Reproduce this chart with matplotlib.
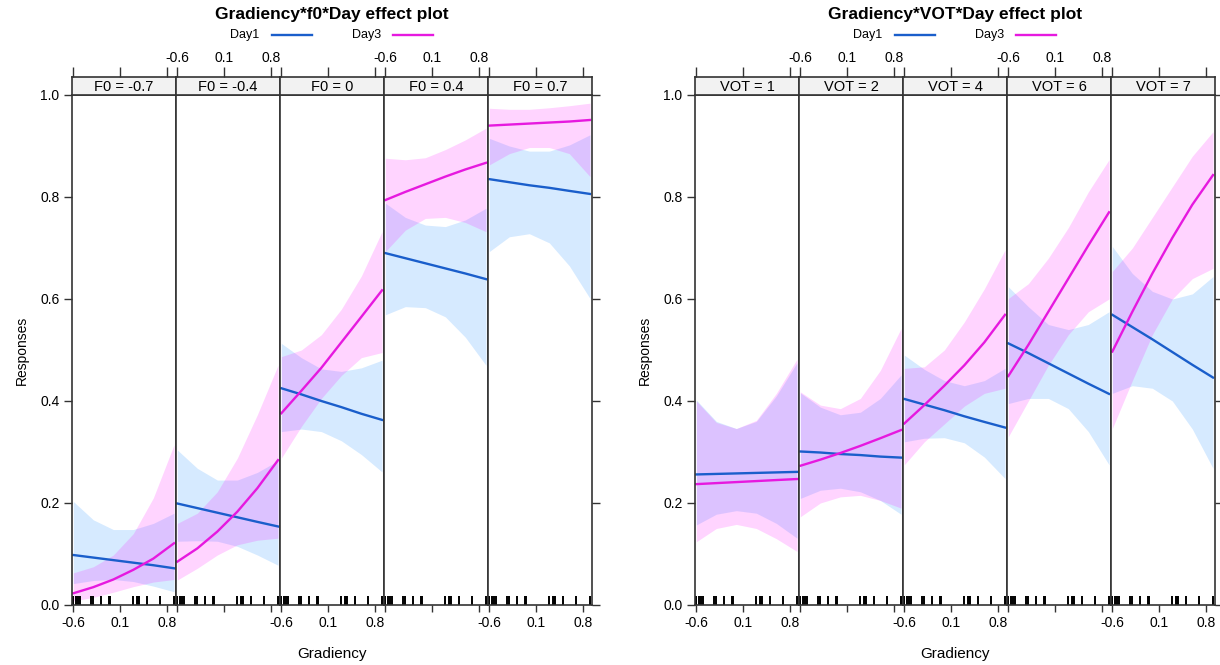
import matplotlib.pyplot as plt
from matplotlib.lines import Line2D

plt.rcParams['font.family'] = ['Liberation Sans', 'DejaVu Sans']

# x positions (Gradiency) at which the fitted curves were read
gx = [-0.6, -0.3, 0.0, 0.3, 0.6, 0.91]

# observed Gradiency values (rug)
rug = [-0.60, -0.56, -0.53, -0.50, -0.33, -0.31, -0.18, -0.07, -0.05,
       0.30, 0.35, 0.37, 0.39, 0.51, 0.70, 0.91]

f0_levels = ['F0 = -0.7', 'F0 = -0.4', 'F0 = 0', 'F0 = 0.4', 'F0 = 0.7']
vot_levels = ['VOT = 1', 'VOT = 2', 'VOT = 4', 'VOT = 6', 'VOT = 7']

# ---- Gradiency*f0*Day ----
f0_d1_fit = [[0.098, 0.093, 0.088, 0.083, 0.078, 0.072],
             [0.199, 0.190, 0.181, 0.172, 0.163, 0.154],
             [0.425, 0.413, 0.400, 0.388, 0.375, 0.363],
             [0.690, 0.680, 0.670, 0.660, 0.650, 0.639],
             [0.835, 0.829, 0.823, 0.818, 0.812, 0.806]]
f0_d1_lo = [[0.042, 0.048, 0.050, 0.046, 0.037, 0.026],
            [0.125, 0.126, 0.125, 0.115, 0.098, 0.078],
            [0.340, 0.345, 0.340, 0.322, 0.295, 0.261],
            [0.569, 0.585, 0.583, 0.565, 0.525, 0.470],
            [0.693, 0.722, 0.728, 0.710, 0.665, 0.601]]
f0_d1_hi = [[0.203, 0.167, 0.148, 0.148, 0.160, 0.180],
            [0.304, 0.268, 0.245, 0.245, 0.260, 0.283],
            [0.513, 0.485, 0.463, 0.458, 0.465, 0.480],
            [0.788, 0.760, 0.745, 0.742, 0.755, 0.778],
            [0.915, 0.900, 0.890, 0.890, 0.902, 0.922]]
f0_d3_fit = [[0.023, 0.035, 0.050, 0.069, 0.091, 0.121],
             [0.085, 0.111, 0.144, 0.183, 0.229, 0.284],
             [0.376, 0.420, 0.465, 0.515, 0.565, 0.617],
             [0.794, 0.810, 0.825, 0.840, 0.854, 0.867],
             [0.940, 0.942, 0.944, 0.946, 0.948, 0.951]]
f0_d3_lo = [[0.008, 0.015, 0.025, 0.036, 0.045, 0.050],
            [0.049, 0.072, 0.098, 0.118, 0.127, 0.131],
            [0.288, 0.350, 0.405, 0.450, 0.485, 0.495],
            [0.693, 0.735, 0.758, 0.760, 0.750, 0.732],
            [0.863, 0.885, 0.897, 0.897, 0.885, 0.840]]
f0_d3_hi = [[0.063, 0.075, 0.098, 0.140, 0.210, 0.314],
            [0.160, 0.180, 0.222, 0.288, 0.373, 0.470],
            [0.487, 0.500, 0.530, 0.580, 0.645, 0.732],
            [0.876, 0.873, 0.877, 0.893, 0.912, 0.935],
            [0.974, 0.972, 0.972, 0.975, 0.979, 0.984]]

# ---- Gradiency*VOT*Day ----
vot_d1_fit = [[0.256, 0.257, 0.258, 0.259, 0.260, 0.261],
              [0.301, 0.299, 0.296, 0.294, 0.291, 0.289],
              [0.404, 0.393, 0.382, 0.370, 0.359, 0.348],
              [0.513, 0.494, 0.474, 0.454, 0.434, 0.414],
              [0.569, 0.545, 0.521, 0.496, 0.471, 0.446]]
vot_d1_lo = [[0.157, 0.178, 0.185, 0.180, 0.160, 0.131],
             [0.209, 0.225, 0.229, 0.222, 0.205, 0.178],
             [0.320, 0.327, 0.328, 0.318, 0.290, 0.248],
             [0.395, 0.405, 0.405, 0.385, 0.340, 0.275],
             [0.415, 0.430, 0.425, 0.400, 0.345, 0.268]]
vot_d1_hi = [[0.402, 0.360, 0.346, 0.360, 0.410, 0.475],
             [0.416, 0.388, 0.373, 0.378, 0.405, 0.451],
             [0.490, 0.462, 0.440, 0.430, 0.440, 0.464],
             [0.624, 0.585, 0.550, 0.540, 0.550, 0.575],
             [0.703, 0.650, 0.615, 0.600, 0.610, 0.644]]
vot_d3_fit = [[0.237, 0.239, 0.241, 0.243, 0.245, 0.247],
              [0.273, 0.285, 0.298, 0.312, 0.327, 0.343],
              [0.356, 0.392, 0.430, 0.470, 0.515, 0.569],
              [0.449, 0.510, 0.575, 0.640, 0.705, 0.770],
              [0.497, 0.575, 0.650, 0.720, 0.785, 0.843]]
vot_d3_lo = [[0.124, 0.150, 0.158, 0.150, 0.130, 0.105],
             [0.173, 0.200, 0.212, 0.215, 0.205, 0.190],
             [0.275, 0.320, 0.355, 0.390, 0.415, 0.425],
             [0.330, 0.400, 0.470, 0.530, 0.575, 0.600],
             [0.346, 0.440, 0.530, 0.600, 0.640, 0.660]]
vot_d3_hi = [[0.400, 0.358, 0.346, 0.362, 0.415, 0.482],
             [0.418, 0.392, 0.385, 0.405, 0.460, 0.542],
             [0.464, 0.467, 0.500, 0.555, 0.620, 0.696],
             [0.601, 0.630, 0.680, 0.740, 0.810, 0.873],
             [0.654, 0.700, 0.760, 0.820, 0.880, 0.928]]

W, H = 1220, 665
day1_line = '#1a5ecb'
day3_line = '#e619df'
day1_band = '#0080ff'
day3_band = '#ff00ff'
edge = '#333333'

fig = plt.figure(figsize=(W / 100, H / 100), dpi=100)


def draw_chart(x0, title, strips, d1, d3):
    pw = 104
    for i in range(5):
        left = (x0 + i * pw) / W
        ax = fig.add_axes([left, 60 / H, pw / W, 510 / H])
        ax.fill_between(gx, d1[1][i], d1[2][i], color=day1_band, alpha=0.16, lw=0)
        ax.fill_between(gx, d3[1][i], d3[2][i], color=day3_band, alpha=0.17, lw=0)
        ax.plot(gx, d1[0][i], color=day1_line, lw=1.7)
        ax.plot(gx, d3[0][i], color=day3_line, lw=1.7)
        ax.vlines(rug, 0, 0.017, color='black', lw=1.4)
        ax.set_xlim(-0.62, 0.94)
        ax.set_ylim(0, 1)
        ax.set_xticks([-0.6, 0.1, 0.8])
        ax.set_xticklabels(['-0.6', '0.1', '0.8'])
        ax.tick_params(axis='x', direction='out', length=5, width=1, color=edge,
                       labelsize=10, pad=3, labelbottom=(i % 2 == 0))
        ax.set_yticks([0, 0.2, 0.4, 0.6, 0.8, 1.0])
        ax.set_yticklabels(['0.0', '0.2', '0.4', '0.6', '0.8', '1.0'])
        ax.tick_params(axis='y', direction='out', length=6, width=1, color=edge,
                       labelsize=10, pad=3, left=(i == 0), labelleft=(i == 0),
                       right=(i == 4), labelright=False)
        for s in ax.spines.values():
            s.set_color(edge)
            s.set_linewidth(1.2)
        if i == 2:
            ax.set_xlabel('Gradiency', fontsize=11, labelpad=12)
        if i == 0:
            ax.set_ylabel('Responses', fontsize=10, labelpad=8)

        # strip with the panel label
        sax = fig.add_axes([left, 570 / H, pw / W, 18 / H])
        sax.set_facecolor('#f2f2f2')
        sax.set_xlim(-0.62, 0.94)
        sax.set_ylim(0, 1)
        sax.set_yticks([])
        sax.set_xticks([-0.6, 0.1, 0.8])
        sax.set_xticklabels(['-0.6', '0.1', '0.8'])
        sax.tick_params(axis='x', direction='out', length=7, width=1, color=edge,
                        top=True, bottom=False, labeltop=(i % 2 == 1),
                        labelbottom=False, labelsize=10, pad=2)
        for s in sax.spines.values():
            s.set_color(edge)
            s.set_linewidth(1.2)
        sax.text(0.5, 0.45, strips[i], transform=sax.transAxes,
                 ha='center', va='center', fontsize=10.5)

    cx = x0 + 2.5 * pw
    fig.text(cx / W, 1 - 15 / H, title, ha='center', va='center',
             fontsize=12.5, fontweight='bold')
    # legend
    ly = 1 - 35 / H
    fig.text((cx - 87) / W, ly, 'Day1', ha='center', va='center', fontsize=9)
    fig.add_artist(Line2D([(cx - 60) / W, (cx - 20) / W], [ly, ly],
                          color=day1_line, lw=1.7, transform=fig.transFigure))
    fig.text((cx + 35) / W, ly, 'Day3', ha='center', va='center', fontsize=9)
    fig.add_artist(Line2D([(cx + 61) / W, (cx + 101) / W], [ly, ly],
                          color=day3_line, lw=1.7, transform=fig.transFigure))


draw_chart(72, 'Gradiency*f0*Day effect plot', f0_levels,
           (f0_d1_fit, f0_d1_lo, f0_d1_hi), (f0_d3_fit, f0_d3_lo, f0_d3_hi))
draw_chart(695, 'Gradiency*VOT*Day effect plot', vot_levels,
           (vot_d1_fit, vot_d1_lo, vot_d1_hi), (vot_d3_fit, vot_d3_lo, vot_d3_hi))

fig.savefig('out.png', dpi=100)
